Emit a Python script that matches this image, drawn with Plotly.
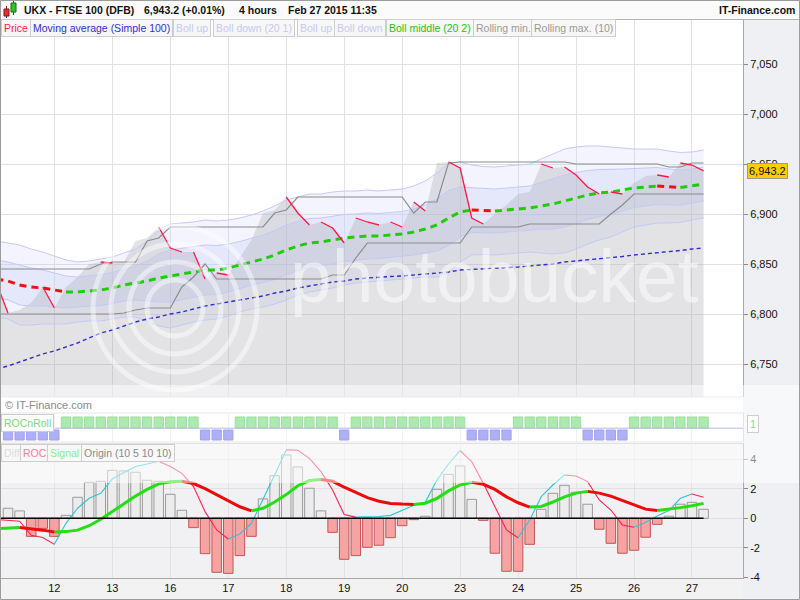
import plotly.graph_objects as go

# ---------------- data ----------------
bar_index = list(range(-1, 61))          # 4-hour bars, -1 is the partly visible one at the left edge
day_labels = ["12", "13", "16", "17", "18", "19", "20", "23", "24", "25", "26", "27"]
day_bars = [4, 9, 14, 19, 24, 29, 34, 39, 44, 49, 54, 59]

price = [6831, 6801, 6804, 6811, 6827, 6806, 6827, 6837, 6850, 6852, 6851, 6852, 6873, 6876, 6887,
         6866, 6862, 6862, 6835, 6841, 6839, 6856, 6874, 6901, 6904, 6917, 6901, 6889, 6892, 6886,
         6871, 6896, 6892, 6889, 6892, 6887, 6912, 6903, 6951, 6952, 6946, 6896, 6890, 6900, 6909,
         6920, 6922, 6950, 6946, 6947, 6939, 6927, 6920, 6922, 6920, 6931, 6938, 6939, 6937, 6951,
         6949, 6943.2]
ma100 = [6745, 6748, 6752, 6756, 6760, 6763, 6767, 6771, 6776, 6781, 6784, 6788, 6792, 6795, 6797,
         6800, 6802, 6805, 6808, 6810, 6812, 6814, 6816, 6818, 6821, 6823, 6826, 6828, 6830, 6832,
         6833, 6835, 6836, 6837, 6837.5, 6838, 6839, 6840, 6841, 6842, 6844, 6844.5, 6845, 6845.5,
         6846.5, 6847, 6848, 6849, 6850, 6852, 6853, 6854, 6855, 6856, 6857.5, 6859, 6860, 6861,
         6862, 6863.5, 6865, 6866]
boll_mid = [6835, 6833, 6829, 6827, 6826, 6824, 6822, 6822, 6823, 6824, 6826, 6829, 6831, 6833, 6836,
            6838, 6840, 6842, 6844, 6844, 6846, 6849, 6852, 6855, 6859, 6864, 6868, 6871, 6872, 6874,
            6876, 6877, 6878, 6878, 6879, 6880, 6882, 6885, 6889, 6896, 6902, 6904, 6903.5, 6903, 6904,
            6905, 6906, 6908, 6910, 6913, 6916, 6919, 6921, 6922, 6924, 6926, 6927, 6928, 6927, 6926.5,
            6928, 6930]
boll_up2 = [6873, 6871, 6869, 6865, 6862, 6858, 6854, 6852, 6853, 6855, 6857, 6861, 6865, 6873, 6884,
            6890, 6891, 6892, 6894, 6893, 6894, 6896, 6899, 6903, 6908, 6914, 6917, 6920, 6920, 6922,
            6923, 6923, 6924, 6923, 6924, 6925, 6928, 6933, 6941, 6951, 6952, 6949, 6947.5, 6947, 6948,
            6949, 6950, 6955, 6960, 6965, 6967, 6968, 6968, 6967, 6966, 6965, 6965, 6965, 6963, 6961.5,
            6962, 6964]
boll_up1 = [6854, 6852, 6849, 6846, 6844, 6841, 6838, 6837, 6838, 6839.5, 6841.5, 6845, 6848, 6853, 6860,
            6864, 6865.5, 6867, 6869, 6868.5, 6870, 6872.5, 6875.5, 6879, 6883.5, 6889, 6892.5, 6895.5,
            6896, 6898, 6899.5, 6900, 6901, 6900.5, 6901.5, 6902.5, 6905, 6909, 6915, 6923.5, 6927,
            6926.5, 6925.5, 6925, 6926, 6927, 6928, 6931.5, 6935, 6939, 6941.5, 6943.5, 6944.5, 6944.5,
            6945, 6945.5, 6946, 6946.5, 6945, 6944, 6945, 6947]
boll_dn1 = [6816, 6814, 6809, 6808, 6808, 6807, 6806, 6807, 6808, 6808.5, 6810.5, 6813, 6814, 6813, 6812,
            6812, 6814.5, 6817, 6819, 6819.5, 6822, 6825.5, 6828.5, 6831, 6834.5, 6839, 6843.5, 6846.5,
            6848, 6850, 6852.5, 6854, 6855, 6855.5, 6856.5, 6857.5, 6859, 6861, 6863, 6868.5, 6877,
            6881.5, 6881.5, 6881, 6882, 6883, 6884, 6884.5, 6885, 6887, 6890.5, 6894.5, 6897.5, 6899.5,
            6903, 6906.5, 6908, 6909.5, 6909, 6909, 6911, 6913]
boll_dn2 = [6797, 6795, 6789, 6789, 6790, 6790, 6790, 6792, 6793, 6793, 6795, 6797, 6797, 6793, 6788,
            6786, 6789, 6792, 6794, 6795, 6798, 6802, 6805, 6807, 6810, 6814, 6819, 6822, 6824, 6826,
            6829, 6831, 6832, 6833, 6834, 6835, 6836, 6837, 6837, 6841, 6852, 6859, 6859.5, 6859, 6860,
            6861, 6862, 6861, 6860, 6861, 6865, 6870, 6874, 6877, 6882, 6887, 6889, 6891, 6891, 6891.5,
            6894, 6896]
roll_max = [6845, 6845, 6845, 6845, 6845, 6845, 6845, 6845, 6845, 6850, 6852, 6852, 6852, 6873, 6876,
            6887, 6887, 6887, 6887, 6887, 6887, 6887, 6887, 6887, 6901, 6904, 6917, 6917, 6917, 6917,
            6917, 6917, 6917, 6917, 6917, 6917, 6901, 6912, 6912, 6951, 6952, 6952, 6952, 6952, 6952,
            6952, 6952, 6952, 6952, 6952, 6950, 6950, 6950, 6950, 6950, 6950, 6950, 6950, 6947, 6947,
            6951, 6951]
roll_min = [6800, 6800, 6800, 6800, 6800, 6800, 6800, 6800, 6800, 6800, 6800, 6801, 6804, 6806, 6806,
            6806, 6827, 6837, 6850, 6835, 6835, 6835, 6835, 6835, 6835, 6835, 6835, 6835, 6835, 6839,
            6839, 6856, 6871, 6871, 6871, 6871, 6871, 6871, 6871, 6871, 6871, 6887, 6887, 6887, 6887,
            6887, 6890, 6890, 6890, 6890, 6890, 6890, 6890, 6900, 6909, 6920, 6920, 6920, 6920, 6920,
            6920, 6920]
roc_diff = [None, 0.68, 0.50, -1.22, -0.68, -1.22, 0.20, 1.42, 2.43, 2.50, 3.24, 3.20, 3.11, 2.57, 2.50,
            1.62, 0.54, -0.63, -2.39, -3.65, -3.72, -2.52, -1.22, 1.31, 2.88, 4.28, 3.47, 2.03, 0.50,
            -0.95, -2.77, -2.52, -1.96, -1.82, -1.31, -0.50, -0.09, 0.14, 1.96, 2.97, 3.54, 1.28, -0.14,
            -2.36, -3.58, -3.58, -1.76, 0.61, 1.69, 2.23, 1.76, 0.95, -0.74, -1.69, -2.36, -2.16, -1.28,
            -0.41, 0.14, 0.95, 1.08, 0.61]
roc_line = [-0.08, -0.14, -0.20, -1.15, -1.30, -1.76, -0.34, 0.68, 1.35, 1.69, 2.66, 3.10, 3.50, 3.67,
            3.85, 3.50, 3.04, 2.14, 0.45, -0.79, -1.40, -1.06, -0.34, 1.24, 2.93, 4.62, 4.60, 4.05, 3.15,
            1.91, 0.25, 0.08, 0.10, 0.12, 0.20, 0.56, 0.88, 1.10, 2.59, 3.67, 4.57, 3.83, 2.36, 0.79,
            -0.79, -1.31, -0.11, 1.46, 2.25, 2.93, 2.86, 2.48, 1.24, 0.56, -0.45, -0.61, -0.29, 0.16,
            0.52, 1.35, 1.64, 1.42]
roc_signal = [-0.70, -0.66, -0.62, -0.70, -0.80, -0.92, -0.90, -0.80, -0.50, -0.07, 0.45, 1.00, 1.50,
              1.95, 2.33, 2.47, 2.50, 2.35, 2.00, 1.60, 1.15, 0.78, 0.50, 0.68, 1.10, 1.60, 2.20, 2.55,
              2.62, 2.50, 2.10, 1.75, 1.40, 1.15, 1.00, 0.96, 0.94, 1.02, 1.35, 1.85, 2.25, 2.43, 2.30,
              1.95, 1.45, 1.05, 0.76, 0.80, 1.10, 1.45, 1.70, 1.82, 1.70, 1.50, 1.20, 0.90, 0.62, 0.52,
              0.60, 0.72, 0.85, 1.01]
rocnroll_up = [None, 0, 0, 0, 0, 0, 1, 1, 1, 1, 1, 1, 1, 1, 1, 1, 1, 1, 0, 0, 0, 1, 1, 1, 1, 1, 1, 1, 1,
               1, 0, 1, 1, 1, 1, 1, 1, 1, 1, 1, 1, 0, 0, 0, 0, 1, 1, 1, 1, 1, 1, 0, 0, 0, 0, 1, 1, 1, 1,
               1, 1, 1]
price_ticks = [6750, 6800, 6850, 6900, 6950, 7000, 7050]
roc_ticks = [-4, -2, 0, 2, 4]
last_price = 6943.2

# ---------------- geometry helpers ----------------
W, H = 800, 600
ML, MR, MT, MB = 0, 57, 20, 22
PW, PH = W - ML - MR, H - MT - MB


def px(x):
    return (x - ML) / PW


def py(y):
    return (H - MB - y) / PH


FONT = "Liberation Sans, Arial, sans-serif"
fig = go.Figure()


def direction_runs(xs, ys):
    """Split a series into rising and falling runs (separated by None)."""
    out = {True: ([], []), False: ([], [])}
    pts = [(x, y) for x, y in zip(xs, ys) if y is not None]
    run_dir, rx, ry = None, [], []
    for k in range(len(pts) - 1):
        (x0, y0), (x1, y1) = pts[k], pts[k + 1]
        d = y1 >= y0
        if d != run_dir:
            if run_dir is not None:
                out[run_dir][0].extend(rx + [None])
                out[run_dir][1].extend(ry + [None])
            run_dir, rx, ry = d, [x0], [y0]
        rx.append(x1)
        ry.append(y1)
    if run_dir is not None:
        out[run_dir][0].extend(rx + [None])
        out[run_dir][1].extend(ry + [None])
    return out


def line(x, y, color, width, dash=None, xa="x", ya="y", **kw):
    fig.add_trace(go.Scatter(x=x, y=y, mode="lines", xaxis=xa, yaxis=ya, hoverinfo="skip",
                             line=dict(color=color, width=width, dash=dash), **kw))


# ---------------- main price panel ----------------
band_fill2 = "rgba(200,206,248,0.22)"
band_fill1 = "rgba(200,206,248,0.30)"
line(bar_index, boll_dn2, "rgba(0,0,0,0)", 0)
line(bar_index, boll_up2, "rgba(0,0,0,0)", 0, fill="tonexty", fillcolor=band_fill2)
line(bar_index, boll_dn1, "rgba(0,0,0,0)", 0)
line(bar_index, boll_up1, "rgba(0,0,0,0)", 0, fill="tonexty", fillcolor=band_fill1)
# price mountain
line(bar_index, price, "rgba(0,0,0,0)", 0, fill="tozeroy", fillcolor="rgba(168,168,176,0.32)")
# band lines
for s in (boll_up2, boll_up1, boll_dn1, boll_dn2):
    line(bar_index, s, "#c6c9f4", 1)
# moving average 100
line(bar_index, ma100, "#2f2fc8", 1.4, dash="4px,3px")
# rolling max / min
line(bar_index, roll_max, "#8c8c8c", 1.2)
line(bar_index, roll_min, "#8c8c8c", 1.2)
# bollinger middle: green rising, red falling
mid_runs = direction_runs(bar_index, boll_mid)
line(mid_runs[True][0], mid_runs[True][1], "#1fcc0a", 3, dash="7px,5px")
line(mid_runs[False][0], mid_runs[False][1], "#ee1111", 3, dash="7px,5px")
# price: falling segments in red
price_runs = direction_runs(bar_index, price)
line(price_runs[False][0], price_runs[False][1], "#ff1744", 1.3)

# ---------------- ROCnRoll panel ----------------
fig.add_trace(go.Bar(x=bar_index, y=[1.1 if s == 1 else None for s in rocnroll_up], base=1.4,
                     width=0.8, xaxis="x2", yaxis="y2", hoverinfo="skip",
                     marker=dict(color="#5ad45a", line=dict(color="#3cb83c", width=1))))
fig.add_trace(go.Bar(x=bar_index, y=[1.0 if s == 0 else None for s in rocnroll_up], base=0.2,
                     width=0.8, xaxis="x2", yaxis="y2", hoverinfo="skip",
                     marker=dict(color="#5a60e8", line=dict(color="#4448d0", width=1))))

# ---------------- ROC panel ----------------
hist_fill = ["#ececec" if (v is not None and v >= 0) else "#f5a3a3" for v in roc_diff]
hist_edge = ["#9a9a9a" if (v is not None and v >= 0) else "#c45656" for v in roc_diff]
fig.add_trace(go.Bar(x=bar_index, y=roc_diff, width=0.82, xaxis="x3", yaxis="y3", hoverinfo="skip",
                     marker=dict(color=hist_fill, line=dict(color=hist_edge, width=1))))
roc_runs = direction_runs(bar_index, roc_line)
line(roc_runs[True][0], roc_runs[True][1], "#2fc4d4", 1.1, xa="x3", ya="y3")
line(roc_runs[False][0], roc_runs[False][1], "#ff2050", 1.1, xa="x3", ya="y3")
sig_runs = direction_runs(bar_index, roc_signal)
line(sig_runs[True][0], sig_runs[True][1], "#22e010", 3, xa="x3", ya="y3")
line(sig_runs[False][0], sig_runs[False][1], "#ee0a0a", 3, xa="x3", ya="y3")

# ---------------- axes ----------------
x_range = [-0.69, 63.4]
xcommon = dict(range=x_range, tickvals=day_bars, showgrid=True, gridcolor="#e2e2e2", gridwidth=1,
               zeroline=False, ticks="", domain=[0, 1])
ycommon = dict(side="right", showline=True, linecolor="#a8a8a8", zeroline=False,
               gridcolor="#e0e0e0", ticks="outside", ticklen=4, tickcolor="#8a8a8a",
               tickfont=dict(size=11, color="#111", family=FONT))
fig.update_layout(
    width=W, height=H, margin=dict(l=ML, r=MR, t=MT, b=MB, autoexpand=False),
    paper_bgcolor="white", plot_bgcolor="white", showlegend=False, barmode="overlay",
    font=dict(family=FONT, size=11, color="#111"),
    xaxis=dict(anchor="y", showticklabels=False, **xcommon),
    xaxis2=dict(anchor="y2", matches="x", showticklabels=False, **xcommon),
    xaxis3=dict(anchor="y3", matches="x", showticklabels=True, ticktext=day_labels,
                tickfont=dict(size=11, color="#111", family=FONT),
                showline=True, linecolor="#a8a8a8", **xcommon),
    yaxis=dict(domain=[py(397), py(20)], range=[7114 - 397, 7114 - 20], tickvals=price_ticks,
               ticktext=[f"{v:,}" for v in price_ticks], **ycommon),
    yaxis2=dict(domain=[py(442), py(413)], range=[0, 2.9], showticklabels=False, showgrid=False,
                side="right", showline=True, linecolor="#c8c8c8", zeroline=False, ticks=""),
    yaxis3=dict(domain=[0, py(443)], range=[-(578 - 518.3) / 14.8, (518.3 - 443) / 14.8],
                tickvals=roc_ticks, ticktext=[str(v) for v in roc_ticks], **ycommon),
)

# ---------------- shapes ----------------
shapes = []
# right axis column and bottom strip backgrounds
shapes.append(dict(type="rect", xref="paper", yref="paper", x0=px(743), x1=px(800), y0=py(600), y1=py(19),
                   fillcolor="#eff0f3", line=dict(width=0), layer="below"))
shapes.append(dict(type="rect", xref="paper", yref="paper", x0=px(0), x1=px(743), y0=py(600), y1=py(578),
                   fillcolor="#f2f2f2", line=dict(width=0), layer="below"))
# ROC panel background (light grey)
shapes.append(dict(type="rect", xref="x3 domain", yref="y3 domain", x0=0, x1=1, y0=0, y1=1,
                   fillcolor="#f1f1f3", line=dict(width=0), layer="below"))
# header bar
shapes.append(dict(type="rect", xref="paper", yref="paper", x0=px(0), x1=px(800), y0=py(19.5), y1=py(0),
                   fillcolor="#fbfbfb", line=dict(color="#b4b4b4", width=1), layer="below"))
# panel separators
for yy, c in ((397, "#d6d6d6"), (413, "#cfcfcf"), (442, "#cfcfcf"), (443.5, "#c4c4c4")):
    shapes.append(dict(type="line", xref="paper", yref="paper", x0=px(0), x1=px(743), y0=py(yy), y1=py(yy),
                       line=dict(color=c, width=1)))
# thin line in ROCnRoll panel
shapes.append(dict(type="line", xref="paper", yref="y2", x0=px(55), x1=px(743), y0=1.38, y1=1.38,
                   line=dict(color="#6c70e6", width=1)))
# zero line of ROC panel
shapes.append(dict(type="line", xref="x3", yref="y3", x0=bar_index[0], x1=bar_index[-1], y0=0, y1=0,
                   line=dict(color="#000000", width=1.4)))
# header icon (two little candles)
shapes.append(dict(type="line", xref="paper", yref="paper", x0=px(6.5), x1=px(6.5), y0=py(6), y1=py(18),
                   line=dict(color="#7a1010", width=1)))
shapes.append(dict(type="rect", xref="paper", yref="paper", x0=px(4), x1=px(9), y0=py(9), y1=py(16),
                   fillcolor="#e03030", line=dict(color="#901010", width=1)))
shapes.append(dict(type="line", xref="paper", yref="paper", x0=px(13.5), x1=px(13.5), y0=py(1), y1=py(15),
                   line=dict(color="#106010", width=1)))
shapes.append(dict(type="rect", xref="paper", yref="paper", x0=px(11), x1=px(16), y0=py(3), y1=py(12),
                   fillcolor="#30c030", line=dict(color="#107010", width=1)))
# photobucket watermark rings
for r in (82, 64, 46, 28):
    shapes.append(dict(type="circle", xref="paper", yref="paper", x0=px(175 - r), x1=px(175 + r),
                       y0=py(308 + r), y1=py(308 - r), line=dict(color="rgba(255,255,255,0.45)", width=5),
                       layer="above"))
# translucent watermark banner
shapes.append(dict(type="rect", xref="paper", yref="paper", x0=px(0), x1=px(800), y0=py(483), y1=py(385),
                   fillcolor="rgba(255,255,255,0.5)", line=dict(width=0), layer="above"))
# outer frame
shapes.append(dict(type="rect", xref="paper", yref="paper", x0=px(0.5), x1=px(799.5), y0=py(599.5), y1=py(0.5),
                   line=dict(color="#9c9c9c", width=1), fillcolor="rgba(0,0,0,0)", layer="above"))
fig.update_layout(shapes=shapes)

# ---------------- annotations ----------------
anns = []


def label(text, x, y, color, size=10.5, box=True, xanchor="left", yref="paper", yval=None, bg="#f7f7f7"):
    a = dict(text=text, x=px(x), xref="paper", y=py(y) if yval is None else yval, yref=yref,
             xanchor=xanchor, yanchor="middle", showarrow=False,
             font=dict(family=FONT, size=size, color=color))
    if box:
        a.update(bgcolor=bg, bordercolor="#cdcdcd", borderwidth=1, borderpad=2)
    anns.append(a)


# header
label("<b>UKX - FTSE 100 (DFB)</b>", 22, 10, "#111", box=False)
label("<b>6,943.2 (+0.01%)</b>", 142, 10, "#111", box=False)
label("<b>4 hours</b>", 237, 10, "#111", box=False)
label("<b>Feb 27 2015 11:35</b>", 286, 10, "#111", box=False)
label("<b>IT-Finance.com</b>", 797, 10, "#111", box=False, xanchor="right")
# main legend row
legend_items = [("Price", 1, "#ff1a4a"), ("Moving average (Simple 100)", 30, "#3030c8"),
                ("Boll up", 173, "#c6c9f0"), ("Boll down (20 1)", 213, "#c6c9f0"),
                ("Boll up", 297, "#c6c9f0"), ("Boll down", 334, "#c6c9f0"),
                ("Boll middle (20 2)", 386, "#22c40c"), ("Rolling min.", 473, "#9a9a9a"),
                ("Rolling max. (10)", 531, "#9a9a9a")]
for t, x, c in legend_items:
    label(t, x, 28.5, c)
# price tag
anns.append(dict(text="6,943.2", x=px(747), xref="paper", y=last_price, yref="y", xanchor="left",
                 yanchor="middle", showarrow=False, bgcolor="#ffcc00", bordercolor="#9a9a9a",
                 borderwidth=1, borderpad=1, font=dict(family=FONT, size=11, color="#111")))
# lower panels
label("© IT-Finance.com", 3, 405, "#8a8a8a", size=11, box=False)
label("ROCnRoll", 1, 422.5, "#7cd67c", bg="#ffffff")
label("1", 747, 424, "#8ad88a", size=11, bg="#ffffff")
for t, x, c in (("Diff", 1, "#dcdcdc"), ("ROC", 20, "#ff7a98"), ("Signal", 47, "#86ef86"),
                ("Origin (10 5 10 10)", 81, "#8a8a8a")):
    label(t, x, 452.5, c, bg="#f8f8f8")
# photobucket watermark text
anns.append(dict(text="photobucket", x=px(288), xref="paper", y=py(276), yref="paper", xanchor="left",
                 yanchor="middle", showarrow=False,
                 font=dict(family=FONT, size=75, color="rgba(255,255,255,0.5)")))
fig.update_layout(annotations=anns)

fig.write_html("out.html", config={"displayModeBar": False},
               post_script="document.body.style.margin='0';document.body.style.padding='0';")
